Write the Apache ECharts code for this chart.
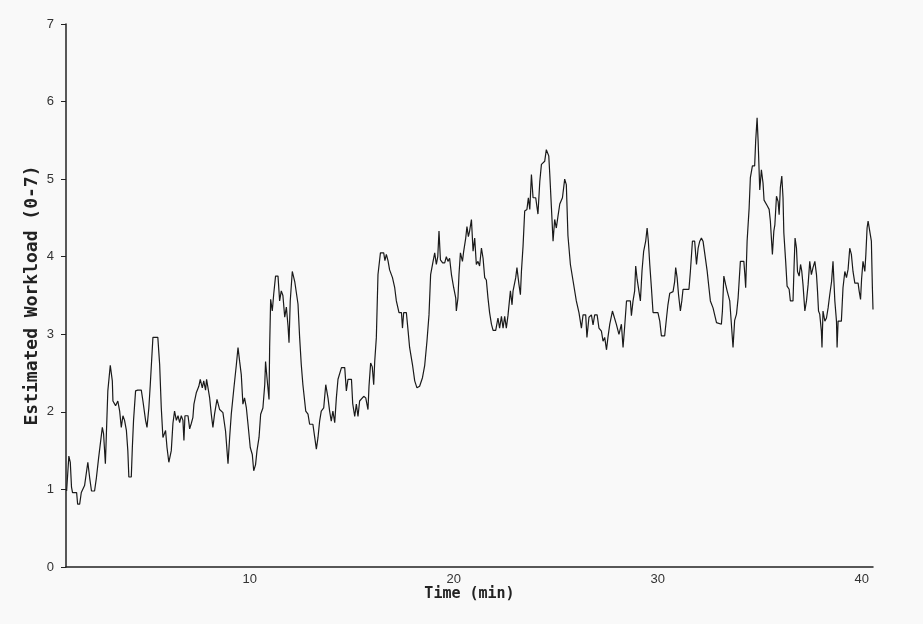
<!DOCTYPE html>
<html>
<head>
<meta charset="utf-8">
<script src="https://cdn.jsdelivr.net/npm/echarts@6/dist/echarts.min.js"></script>
<style>
html,body{margin:0;padding:0;background:#f9f9f9;}
#chart{width:923px;height:624px;}
</style>
</head>
<body>
<div id="chart"></div>
<script>
var timeMin = [
1.03,1.14,1.21,1.27,1.32,1.52,1.57,1.67,1.75,1.91,2.07,2.16,2.25,2.40,2.49,2.60,2.78,2.84,2.93,2.98,
3.05,3.17,3.27,3.30,3.43,3.54,3.63,3.71,3.79,3.87,3.96,4.03,4.08,4.20,4.25,4.31,4.41,4.51,4.69,4.77,
4.90,4.97,5.06,5.13,5.26,5.50,5.59,5.67,5.75,5.88,5.95,6.04,6.16,6.24,6.32,6.41,6.49,6.57,6.65,6.73,
6.78,6.83,6.98,7.06,7.14,7.22,7.27,7.39,7.51,7.58,7.68,7.75,7.84,7.89,7.96,8.04,8.12,8.20,8.28,8.40,
8.53,8.69,8.82,8.94,9.02,9.10,9.23,9.35,9.43,9.51,9.59,9.67,9.75,9.84,9.92,10.03,10.13,10.20,10.29,10.36,
10.46,10.54,10.65,10.74,10.78,10.85,10.95,10.98,11.03,11.11,11.18,11.27,11.39,11.47,11.55,11.63,11.72,11.80,11.88,11.93,
11.99,12.09,12.21,12.29,12.37,12.45,12.53,12.61,12.75,12.86,12.94,13.10,13.19,13.27,13.35,13.43,13.51,13.63,13.73,13.84,
13.92,14.00,14.08,14.17,14.25,14.33,14.50,14.66,14.74,14.82,14.99,15.05,15.15,15.23,15.31,15.39,15.59,15.69,15.80,15.85,
15.93,16.01,16.08,16.13,16.21,16.29,16.41,16.57,16.63,16.70,16.78,16.86,17.00,17.11,17.19,17.32,17.44,17.49,17.55,17.68,
17.76,17.84,17.98,18.09,18.20,18.33,18.47,18.58,18.69,18.79,18.87,18.99,19.07,19.15,19.22,19.28,19.35,19.46,19.56,19.64,
19.72,19.80,19.89,20.00,20.10,20.13,20.21,20.26,20.33,20.43,20.49,20.59,20.65,20.72,20.78,20.87,20.95,21.03,21.11,21.19,
21.27,21.36,21.44,21.52,21.60,21.68,21.76,21.85,21.93,22.06,22.17,22.25,22.34,22.42,22.50,22.58,22.66,22.78,22.86,22.91,
23.04,23.10,23.20,23.27,23.32,23.40,23.48,23.59,23.66,23.73,23.81,23.89,24.02,24.13,24.22,24.30,24.46,24.54,24.66,24.71,
24.79,24.87,24.95,25.03,25.11,25.20,25.33,25.44,25.52,25.60,25.72,25.85,26.01,26.14,26.26,26.34,26.47,26.53,26.63,26.75,
26.83,26.91,27.03,27.12,27.24,27.32,27.40,27.49,27.56,27.65,27.78,27.84,27.97,28.10,28.22,28.30,28.38,28.47,28.66,28.71,
28.79,28.87,28.92,28.99,29.08,29.15,29.23,29.31,29.41,29.48,29.54,29.61,29.69,29.77,30.01,30.10,30.18,30.34,30.43,30.50,
30.59,30.75,30.83,30.88,30.95,31.02,31.11,31.18,31.24,31.41,31.53,31.60,31.70,31.81,31.90,31.98,32.06,32.14,32.22,32.30,
32.42,32.51,32.58,32.71,32.88,33.12,33.17,33.24,33.33,33.40,33.53,33.61,33.69,33.77,33.86,33.94,34.05,34.22,34.27,34.31,
34.38,34.48,34.54,34.64,34.75,34.80,34.87,34.92,35.00,35.08,35.16,35.21,35.25,35.36,35.46,35.52,35.57,35.62,35.69,35.74,
35.82,35.90,35.95,36.01,36.08,36.14,36.18,36.27,36.34,36.44,36.50,36.63,36.68,36.73,36.80,36.85,36.93,37.00,37.06,37.12,
37.21,37.29,37.37,37.45,37.53,37.61,37.70,37.78,37.83,37.88,37.94,38.02,38.05,38.10,38.19,38.27,38.35,38.43,38.52,38.59,
38.68,38.76,38.79,38.84,39.00,39.08,39.17,39.25,39.33,39.41,39.49,39.57,39.66,39.82,39.87,39.94,39.99,40.06,40.15,40.20,
40.26,40.31,40.39,40.47,40.52,40.55
];
var workload = [
0.98,1.43,1.35,1.03,0.96,0.96,0.81,0.81,0.96,1.05,1.35,1.15,0.98,0.98,1.15,1.41,1.80,1.72,1.33,1.72,
2.27,2.60,2.40,2.14,2.08,2.14,2.01,1.80,1.95,1.89,1.76,1.50,1.16,1.16,1.53,1.89,2.27,2.28,2.28,2.14,
1.89,1.80,2.05,2.35,2.96,2.96,2.61,2.05,1.67,1.76,1.54,1.35,1.50,1.85,2.01,1.89,1.95,1.86,1.95,1.89,
1.63,1.95,1.95,1.78,1.85,1.93,2.10,2.25,2.33,2.42,2.31,2.40,2.28,2.42,2.42,2.18,1.97,1.80,1.97,2.16,
2.03,1.99,1.75,1.33,1.67,1.97,2.31,2.61,2.83,2.65,2.48,2.10,2.18,2.05,1.84,1.54,1.45,1.24,1.32,1.50,
1.67,1.97,2.05,2.35,2.65,2.44,2.16,2.83,3.45,3.30,3.52,3.75,3.75,3.43,3.56,3.50,3.22,3.35,3.11,2.89,
3.43,3.81,3.68,3.66,3.39,2.96,2.61,2.35,2.01,1.97,1.84,1.84,1.67,1.52,1.67,1.88,2.01,2.05,2.35,2.18,
2.01,1.88,2.01,1.86,2.18,2.42,2.57,2.57,2.27,2.42,2.42,2.11,1.94,2.10,1.94,2.14,2.20,2.18,2.03,2.33,
2.63,2.58,2.35,2.65,2.96,3.77,4.05,4.05,3.95,4.03,3.95,3.83,3.73,3.60,3.43,3.28,3.28,3.08,3.28,3.28,
3.06,2.83,2.61,2.40,2.31,2.33,2.44,2.60,2.91,3.25,3.77,3.94,4.05,3.90,4.00,4.33,3.96,3.92,3.92,4.00,
3.94,3.98,3.77,3.60,3.47,3.30,3.47,3.77,4.05,3.94,4.07,4.24,4.39,4.26,4.33,4.48,4.07,4.24,3.90,3.94,
3.88,4.11,3.98,3.73,3.70,3.47,3.28,3.13,3.05,3.05,3.21,3.08,3.23,3.08,3.23,3.08,3.24,3.56,3.38,3.56,
3.73,3.86,3.64,3.51,3.81,4.14,4.59,4.61,4.76,4.61,5.06,4.76,4.76,4.55,4.97,5.19,5.23,5.38,5.30,5.06,
4.63,4.20,4.48,4.37,4.52,4.68,4.76,5.00,4.93,4.27,3.90,3.69,3.43,3.28,3.08,3.25,3.25,2.96,3.22,3.25,
3.12,3.25,3.25,3.08,3.04,2.91,2.96,2.80,2.96,3.13,3.30,3.28,3.13,3.00,3.13,2.83,3.10,3.43,3.43,3.24,
3.43,3.56,3.88,3.71,3.69,3.43,3.82,4.07,4.20,4.37,4.20,3.90,3.60,3.28,3.28,3.17,2.98,2.98,3.21,3.38,
3.53,3.55,3.68,3.86,3.73,3.51,3.30,3.43,3.58,3.58,3.58,3.81,4.20,4.20,3.90,4.11,4.20,4.24,4.20,4.05,
3.82,3.60,3.43,3.34,3.15,3.13,3.30,3.75,3.64,3.56,3.43,3.43,2.83,3.18,3.26,3.47,3.94,3.94,3.77,3.60,
4.20,4.63,5.02,5.17,5.17,5.49,5.79,5.49,4.86,5.12,4.95,4.73,4.73,4.66,4.61,4.46,4.24,4.03,4.33,4.41,
4.78,4.71,4.54,4.89,5.04,4.76,4.31,3.94,3.62,3.58,3.43,3.43,3.86,4.24,4.11,3.81,3.75,3.90,3.81,3.64,
3.30,3.43,3.64,3.94,3.77,3.86,3.94,3.77,3.56,3.30,3.26,3.04,2.83,3.30,3.17,3.21,3.34,3.51,3.68,3.94,
3.43,3.17,2.83,3.17,3.17,3.60,3.81,3.73,3.84,4.11,4.03,3.81,3.66,3.66,3.56,3.45,3.71,3.94,3.81,4.03,
4.37,4.46,4.46,4.20,3.60,3.32
];
var xTickLabels = [10, 20, 30, 40];
var yTickLabels = [0, 1, 2, 3, 4, 5, 6, 7];

var seriesData = timeMin.map(function (t, i) { return [t, workload[i]]; });

var chart = echarts.init(document.getElementById('chart'), null, {renderer: 'canvas'});
chart.setOption({
  backgroundColor: '#f9f9f9',
  animation: false,
  grid: {left: 66, right: 50, top: 24, bottom: 57, containLabel: false},
  xAxis: {
    type: 'value',
    min: 1,
    max: 40.55,
    name: 'Time (min)',
    nameLocation: 'middle',
    nameGap: 20,
    nameMoveOverlap: false,
    nameTextStyle: {fontFamily: 'DejaVu Sans Mono', fontWeight: 'bold', fontSize: 15, color: '#222'},
    axisLine: {show: true, lineStyle: {color: '#222', width: 1.5}},
    axisTick: {show: false},
    splitLine: {show: false},
    axisLabel: {
      customValues: xTickLabels,
      color: '#333',
      fontFamily: 'Liberation Sans',
      fontSize: 13,
      margin: 6
    }
  },
  yAxis: {
    type: 'value',
    min: 0,
    max: 7,
    interval: 1,
    name: 'Estimated Workload (0-7)',
    nameLocation: 'middle',
    nameRotate: 90,
    nameGap: 25,
    nameMoveOverlap: false,
    nameTextStyle: {fontFamily: 'DejaVu Sans Mono', fontWeight: 'bold', fontSize: 18, color: '#222'},
    axisLine: {show: true, lineStyle: {color: '#222', width: 1.5}},
    axisTick: {show: true, inside: false, length: 5, lineStyle: {color: '#222', width: 1}},
    splitLine: {show: false},
    axisLabel: {
      customValues: yTickLabels,
      color: '#333',
      fontFamily: 'Liberation Sans',
      fontSize: 13,
      margin: 12
    }
  },
  series: [{
    type: 'line',
    data: seriesData,
    showSymbol: false,
    symbol: 'none',
    lineStyle: {color: '#1a1a1a', width: 1.2},
    silent: true
  }]
});
</script>
</body>
</html>
